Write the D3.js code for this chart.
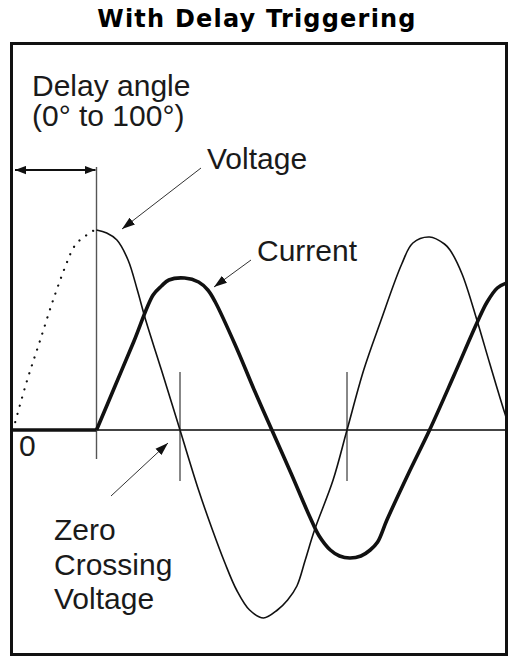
<!DOCTYPE html>
<html>
<head>
<meta charset="utf-8">
<script src="https://cdn.jsdelivr.net/npm/d3@7"></script>
<style>
  body { margin: 0; background: #fff; }
  text { font-family: "Liberation Sans", Arial, sans-serif; fill: #1a1a1a; }
</style>
</head>
<body>
<div id="chart"></div>
<script>
// degrees of the mains cycle, values normalised to the voltage peak
let voltageDottedDeg = [0, 15, 29, 44, 57, 65, 71, 78, 86, 90];
let voltageDottedVal = [0, 0.245, 0.445, 0.66, 0.825, 0.91, 0.945, 0.97, 0.995, 1.0];

let voltageDeg = [90, 101, 112, 124, 134, 143, 160, 180, 200, 215, 228, 241, 255, 270, 285, 296, 306, 315, 325, 345, 360, 378, 396, 419, 431, 449, 465, 471, 484, 500, 514, 530, 540];
let voltageVal = [1.0, 0.985, 0.95, 0.85, 0.70, 0.55, 0.30, 0, -0.3, -0.5, -0.66, -0.8, -0.9, -0.94, -0.9, -0.85, -0.78, -0.65, -0.5, -0.25, 0, 0.3, 0.54, 0.83, 0.935, 0.965, 0.93, 0.9, 0.78, 0.55, 0.33, 0.085, -0.05];

let currentOffDeg = [0, 90];
let currentOffVal = [0, 0];
let currentDeg = [90, 110, 130, 151, 160, 168, 185, 200, 210, 218, 240, 260, 279, 300, 320, 330, 342, 352, 363, 375, 385, 393, 403, 426, 449, 475, 500, 511, 522, 532, 540];
let currentVal = [0, 0.22, 0.44, 0.675, 0.72, 0.75, 0.76, 0.74, 0.70, 0.64, 0.42, 0.2, 0, -0.22, -0.435, -0.53, -0.6, -0.63, -0.64, -0.63, -0.6, -0.56, -0.45, -0.22, 0, 0.27, 0.535, 0.64, 0.71, 0.735, 0.74];

let markerDeg = [90, 180, 360];
let tickLabels = ["0"];

let totalWidth = 509;
let totalHeight = 657;

let x = d3.scaleLinear().domain([0, 540]).range([13, 13 + 540 * 0.9278]);
let y = d3.scaleLinear().domain([-1, 1]).range([630, 230]);

let svg = d3.select("#chart").append("svg")
    .attr("width", totalWidth)
    .attr("height", totalHeight);

// arrow heads
let defs = svg.append("defs");
defs.append("marker")
    .attr("id", "head")
    .attr("viewBox", "0 0 12 8")
    .attr("refX", 12).attr("refY", 4)
    .attr("markerUnits", "userSpaceOnUse")
    .attr("markerWidth", 13).attr("markerHeight", 9)
    .attr("orient", "auto-start-reverse")
    .append("path").attr("d", "M0,0 L12,4 L0,8 Z").attr("fill", "#111");
defs.append("marker")
    .attr("id", "bighead")
    .attr("viewBox", "0 0 12 9")
    .attr("refX", 12).attr("refY", 4.5)
    .attr("markerUnits", "userSpaceOnUse")
    .attr("markerWidth", 11).attr("markerHeight", 9)
    .attr("orient", "auto-start-reverse")
    .append("path").attr("d", "M0,0 L12,4.5 L0,9 Z").attr("fill", "#111");

defs.append("clipPath").attr("id", "clip")
    .append("rect").attr("x", 13).attr("y", 45).attr("width", 492).attr("height", 608);

// title
svg.append("text")
    .attr("x", 257).attr("y", 27)
    .attr("text-anchor", "middle")
    .style("font-family", "'DejaVu Sans', Verdana, sans-serif")
    .style("font-weight", "bold")
    .style("font-size", "24px")
    .style("letter-spacing", "1.2px")
    .style("fill", "#000")
    .text("With Delay Triggering");

let plot = svg.append("g").attr("clip-path", "url(#clip)");

// baseline (zero axis)
plot.append("line")
    .attr("x1", 12).attr("x2", 506)
    .attr("y1", y(0)).attr("y2", y(0))
    .attr("stroke", "#444").attr("stroke-width", 1.8);

// vertical markers
let markerSpan = { 90: [167, 459], 180: [372, 481], 360: [372, 481] };
plot.selectAll("line.marker")
    .data(markerDeg)
    .enter().append("line")
    .attr("class", "marker")
    .attr("x1", d => x(d)).attr("x2", d => x(d))
    .attr("y1", d => markerSpan[d][0]).attr("y2", d => markerSpan[d][1])
    .attr("stroke", "#555").attr("stroke-width", 1.4);

let toPts = (degs, vals) => degs.map((d, i) => [d, vals[i]]);
let smooth = d3.line()
    .x(d => x(d[0])).y(d => y(d[1]))
    .curve(d3.curveCatmullRom.alpha(0.5));

// voltage before triggering (dotted)
plot.append("path")
    .attr("d", smooth(toPts(voltageDottedDeg, voltageDottedVal)))
    .attr("fill", "none")
    .attr("stroke", "#111")
    .attr("stroke-width", 2.2)
    .attr("stroke-linecap", "round")
    .attr("stroke-dasharray", "0.1,8.3");

// voltage
plot.append("path")
    .attr("d", smooth(toPts(voltageDeg, voltageVal)))
    .attr("fill", "none")
    .attr("stroke", "#111")
    .attr("stroke-width", 1.6);

// current
plot.append("path")
    .attr("d", d3.line().x(d => x(d[0])).y(d => y(d[1]))(toPts(currentOffDeg, currentOffVal)))
    .attr("fill", "none")
    .attr("stroke", "#111")
    .attr("stroke-width", 3.6);
plot.append("path")
    .attr("d", smooth(toPts(currentDeg, currentVal)))
    .attr("fill", "none")
    .attr("stroke", "#111")
    .attr("stroke-width", 3.6)
    .attr("stroke-linejoin", "round");

// frame
svg.append("rect")
    .attr("x", 11.5).attr("y", 43.5)
    .attr("width", 495).attr("height", 611)
    .attr("fill", "none")
    .attr("stroke", "#111")
    .attr("stroke-width", 3);

// delay angle double arrow
svg.append("line")
    .attr("x1", 15).attr("x2", x(90) - 1)
    .attr("y1", 170).attr("y2", 170)
    .attr("stroke", "#111").attr("stroke-width", 1.8)
    .attr("marker-start", "url(#bighead)")
    .attr("marker-end", "url(#bighead)");

// pointer arrows
let pointers = [
    [201, 168, 122, 229],
    [251, 260, 214, 287],
    [111, 496, 168, 443]
];
svg.selectAll("line.pointer")
    .data(pointers)
    .enter().append("line")
    .attr("class", "pointer")
    .attr("x1", d => d[0]).attr("y1", d => d[1])
    .attr("x2", d => d[2]).attr("y2", d => d[3])
    .attr("stroke", "#333").attr("stroke-width", 1)
    .attr("marker-end", "url(#head)");

// labels
let labelSize = "30px";
function label(tx, ty, str) {
    svg.append("text")
        .attr("x", tx).attr("y", ty)
        .style("font-size", labelSize)
        .text(str);
}
label(32, 96, "Delay angle");
label(32, 126, "(0\u00b0 to 100\u00b0)");
label(207, 169, "Voltage");
label(257, 261, "Current");
label(54, 540, "Zero");
label(54, 575, "Crossing");
label(54, 609, "Voltage");

svg.selectAll("text.tick")
    .data(tickLabels)
    .enter().append("text")
    .attr("class", "tick")
    .attr("x", 19).attr("y", 456)
    .style("font-size", labelSize)
    .text(d => d);
</script>
</body>
</html>
